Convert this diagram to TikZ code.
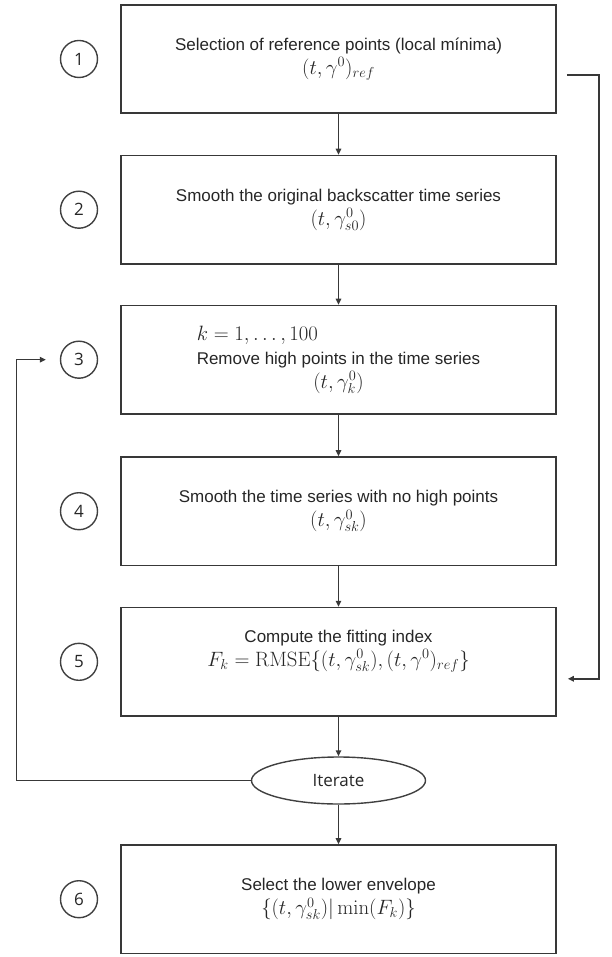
\documentclass[tikz,border=0pt]{standalone}
\usepackage[no-math]{fontspec}
\setmainfont{Liberation Sans}
\newfontfamily\numfont{Open Sans}
\usetikzlibrary{arrows.meta,shapes.geometric}
\newcommand\mymath[1]{{\fontsize{19.5}{24}\selectfont$#1$}}
\begin{document}
\begin{tikzpicture}[x=1pt,y=-1pt,
  every node/.style={text=black!85},
  box/.style={draw=black!78, line width=1.6pt, minimum width=435pt, minimum height=108.5pt, inner sep=0pt},
  txt/.style={align=center, font=\fontsize{17}{24}\selectfont, inner sep=0pt},
  num/.style={draw=black!75, line width=1.4pt, circle, minimum size=37pt, inner sep=0pt, font=\numfont\fontsize{17}{20}\selectfont},
  oval/.style={draw=black!75, line width=1.4pt, ellipse, minimum width=174pt, minimum height=47pt, inner sep=0pt, font=\numfont\fontsize{17}{20}\selectfont},
  conn/.style={draw=black!78, line width=1.4pt},
  arr/.style={conn, -{Triangle[length=6pt,width=5.5pt]}}
]
\useasboundingbox (0,0) rectangle (612,957);

% boxes
\node[box] (b1) at (338.5,59) {};
\node[box] (b2) at (338.5,209.7) {};
\node[box] (b3) at (338.5,359.7) {};
\node[box] (b4) at (338.5,511.2) {};
\node[box] (b5) at (338.5,661.8) {};
\node[oval] (it) at (338.5,780.5) {Iterate};
\node[box] (b6) at (338.5,899.2) {};

% texts
\node[txt] (t1) at (b1.center) {Selection of reference points (local mínima)\\ \mymath{(t,\gamma^0)_{ref}}};
\node[txt] (t2) at (b2.center) {Smooth the original backscatter time series\\ \mymath{(t,\gamma^0_{s0})}};
\node[txt] (t3) at (b3.center) {\rlap{\mymath{k=1,\ldots,100}}\phantom{Remove high points in the time series}\\ Remove high points in the time series\\ \mymath{(t,\gamma^0_k)}};
\node[txt] (t4) at (b4.center) {Smooth the time series with no high points\\ \mymath{(t,\gamma^0_{sk})}};
\node[txt] (t5) at ([yshift=11pt]b5.center) {Compute the fitting index\\ \mymath{F_k=\mathrm{RMSE}\big\{\big(t,\gamma^0_{sk}\big),(t,\gamma^0)_{ref}\big\}}};
\node[txt] (t6) at (b6.center) {Select the lower envelope\\ \mymath{\big\{\big(t,\gamma^0_{sk}\big)\big|\min(F_k)\big\}}};

% step numbers
\node[num] (n1) at (79,59) {1};
\node[num] (n2) at (79,209.7) {2};
\node[num] (n3) at (79,359.7) {3};
\node[num] (n4) at (79,511.2) {4};
\node[num] (n5) at (79,661.8) {5};
\node[num] (n6) at (79,899.2) {6};

% main flow
\draw[arr] (b1.south) -- (b2.north);
\draw[arr] (b2.south) -- (b3.north);
\draw[arr] (b3.south) -- (b4.north);
\draw[arr] (b4.south) -- (b5.north);
\draw[arr] (b5.south) -- (it.north);
\draw[arr] (it.south) -- (b6.north);

% right feedback
\coordinate (r1) at ([xshift=10pt,yshift=-16pt]b1.east);
\coordinate (r2) at ([xshift=11pt,yshift=-17pt]b5.east);
\coordinate (rc) at (599,75);
\draw[arr] (r1) -- (rc) |- (r2);

% left feedback
\coordinate (l3) at ([xshift=-14pt]n3.west);
\coordinate (lc) at (16.5,359.7);
\draw[arr] (it.west) -| (lc) -- (l3);
\end{tikzpicture}
\end{document}
